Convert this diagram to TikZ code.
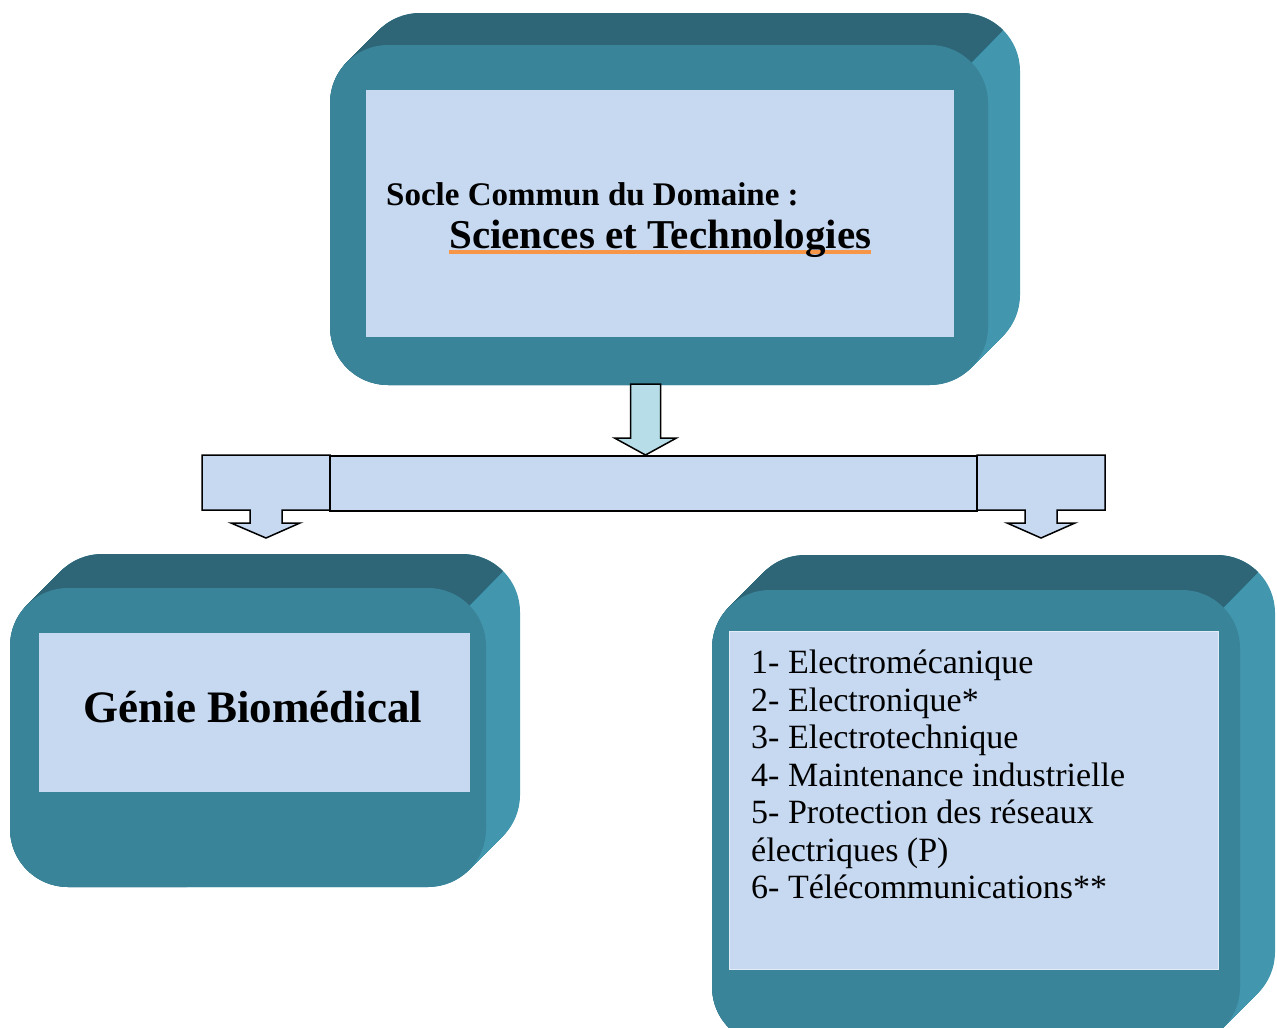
\documentclass[tikz,border=0pt]{standalone}
\usepackage{fontspec}
\setmainfont{Liberation Serif}
\definecolor{facebleu}{HTML}{3A8499}
\definecolor{dessusbleu}{HTML}{2E6677}
\definecolor{cotebleu}{HTML}{4296AE}
\definecolor{bleupale}{HTML}{C6D9F1}
\definecolor{bleuaqua}{HTML}{B7DEE8}
\definecolor{soulign}{HTML}{F79646}
\newcommand{\souligne}[1]{\setbox0=\hbox{#1}\rlap{\color{soulign}\rule[-6pt]{\wd0}{4.5pt}}\box0}
\newcommand{\bloc}[5]{%
  \foreach \s in {0,...,#5}
    \fill[cotebleu, rounded corners=58pt, xshift=\s pt, yshift=\s pt] (#1,#2) rectangle (#3,#4);
  \begin{scope}
    \clip ({#3-1017},{#2+1017}) -- ({#3+983},{#2-983}) -- ({#3-2017},{#2-1983}) -- cycle;
    \foreach \s in {0,...,#5}
      \fill[dessusbleu, rounded corners=58pt, xshift=\s pt, yshift=\s pt] (#1,#2) rectangle (#3,#4);
  \end{scope}
  \fill[facebleu, rounded corners=58pt] (#1,#2) rectangle (#3,#4);
}
\tikzset{
  panneau/.style={rectangle, fill=bleupale, inner sep=0pt},
  fleche/.style={draw=black, line width=1.5pt, line join=miter},
}
\begin{document}
\begin{tikzpicture}[x=1pt, y=-1pt]
\clip (0,0) rectangle (1277,1028);
\bloc{330}{45}{988}{385}{32}
\bloc{10}{588}{486}{887}{34}
\bloc{712}{590}{1240}{1045}{35}
\node[panneau, minimum width=588pt, minimum height=247pt] (socle) at (660,213.5) {};
\node[panneau, minimum width=431pt, minimum height=159pt] (genie) at (254.5,712.5) {};
\node[panneau, draw=bleupale!50!white, line width=1pt, minimum width=489pt, minimum height=338pt] (filieres) at (973.5,800) {};
\node[anchor=base west, inner sep=0pt, font=\fontsize{33}{40}\selectfont\bfseries] (domaine) at (386,205) {Socle Commun du Domaine :};
\node[anchor=base west, inner sep=0pt, font=\fontsize{41}{48}\selectfont\bfseries] (sciences) at (449,248) {\souligne{Sciences et Technologies}};
\node[anchor=base, inner sep=0pt, font=\fontsize{45}{54}\selectfont\bfseries] (geniebio) at (253,722) {Génie Biomédical};
\node[anchor=north west, inner sep=0pt, align=left, font=\fontsize{34}{37.5}\selectfont] (liste) at (751,650) {1- Electromécanique\\2- Electronique*\\3- Electrotechnique\\4- Maintenance industrielle\\5- Protection des réseaux\\électriques (P)\\6- Télécommunications**};
\filldraw[fleche, fill=bleupale] (202,455) -- (330,455) -- (330,510) -- (282,510) -- (282,523) -- (300,523) -- (266,538) -- (231,523) -- (250,523) -- (250,510) -- (202,510) -- cycle;
\filldraw[fleche, fill=bleupale] (977,455) -- (1105,455) -- (1105,510) -- (1057,510) -- (1057,523) -- (1075,523) -- (1041,538) -- (1007,523) -- (1025,523) -- (1025,510) -- (977,510) -- cycle;
\filldraw[fleche, fill=bleupale] (330,456) rectangle (977,511);
\filldraw[fleche, fill=bleuaqua] (630.5,384) -- (660.5,384) -- (660.5,438) -- (676.5,438) -- (645.5,455) -- (614.5,438) -- (630.5,438) -- cycle;
\end{tikzpicture}
\end{document}
